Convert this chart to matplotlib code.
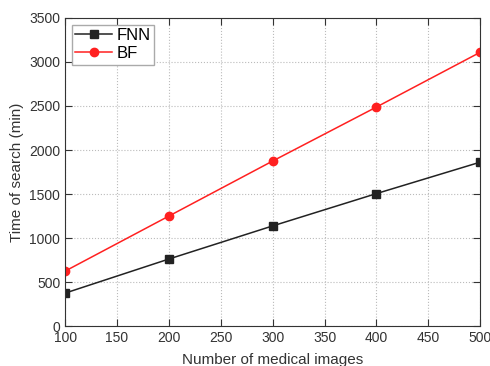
import matplotlib
matplotlib.use("Agg")
import matplotlib.pyplot as plt

plt.rcParams['font.family'] = ['Liberation Sans', 'DejaVu Sans']

images = [100, 200, 300, 400, 500]
fnn = [375, 762, 1138, 1505, 1862]
bf = [625, 1250, 1875, 2488, 3110]

fig = plt.figure(figsize=(4.9, 3.66), dpi=100)
ax = fig.add_axes([0.133, 0.109, 0.847, 0.842])

ax.plot(images, fnn, color='#222222', lw=1.1, marker='s', ms=5.5, label='FNN')
ax.plot(images, bf, color='#ff2020', lw=1.1, marker='o', ms=6, label='BF')

ax.set_xlim(100, 500)
ax.set_ylim(0, 3500)
ax.set_xticks(range(100, 501, 50))
ax.set_yticks(range(0, 3501, 500))
ax.tick_params(direction='in', top=True, right=True, labelsize=10, length=5, colors='#333333')
ax.grid(True, linestyle=':', color='#bbbbbb', lw=0.8)
for s in ax.spines.values():
    s.set_color('#333333')

ax.set_xlabel('Number of medical images', fontsize=11, color='#333333', labelpad=6)
ax.set_ylabel('Time of search (min)', fontsize=11, color='#333333')

leg = ax.legend(loc='upper left', fontsize=12, fancybox=False, framealpha=1,
                edgecolor='#aaaaaa', borderaxespad=0.4, handlelength=2.2,
                handletextpad=0.3, borderpad=0.2, labelspacing=0.2)

fig.savefig('out.png', dpi=100)
